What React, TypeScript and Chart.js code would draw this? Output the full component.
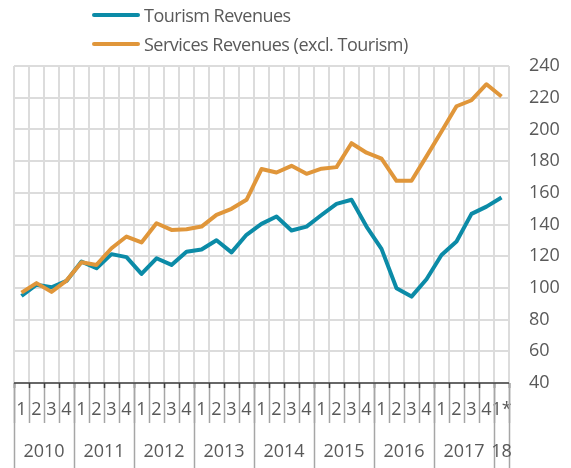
import React, { useEffect, useRef } from 'react';
import { Chart, registerables } from 'chart.js';

Chart.register(...registerables);

const quarterLabels = [
  '1', '2', '3', '4', '1', '2', '3', '4', '1', '2', '3', '4', '1', '2', '3', '4',
  '1', '2', '3', '4', '1', '2', '3', '4', '1', '2', '3', '4', '1', '2', '3', '4', '1*',
];
const yearLabels = ['2010', '2011', '2012', '2013', '2014', '2015', '2016', '2017', '18'];
const yearSpans = [4, 4, 4, 4, 4, 4, 4, 4, 1];

const tourismRevenues = [
  94.9, 102, 100.4, 104.4, 116.6, 112.4, 121.3, 119.4, 108.8, 118.7, 114.5, 122.8,
  124.2, 130.1, 122.4, 133.5, 140.4, 145, 136.2, 138.7, 146, 153, 155.6, 138.7,
  124.6, 99.8, 94.5, 105.5, 120.8, 129.3, 146.7, 151.3, 157,
];
const servicesRevenues = [
  97, 103, 97.5, 104.6, 116.2, 114.5, 125, 132.4, 128.7, 140.8, 136.6, 137,
  138.7, 146.1, 149.9, 155.6, 175, 172.8, 177, 172, 175.2, 176.2, 191.3, 185.3,
  181.5, 167.6, 167.6, 183, 198.7, 214.6, 218.4, 228.5, 220.8,
];

const Y_MIN = 40;
const Y_MAX = 240;
const Y_STEP = 20;

const TEAL = '#0b8ba7';
const ORANGE = '#e0963a';
const TEXT = '#595959';
const FONT = "'Open Sans', sans-serif";

const seriesNames = ['Tourism Revenues', 'Services Revenues (excl. Tourism)'];

const axisDecor = {
  id: 'axisDecor',
  afterDraw(chart: any) {
    const { ctx, chartArea } = chart;
    const x = chart.scales.x;
    const bottom = chartArea.bottom;
    const n = quarterLabels.length;
    ctx.save();
    for (let i = 0; i <= n; i++) {
      const px = Math.round(x.getPixelForValue(i - 0.5)) + 0.5;
      ctx.strokeStyle = '#a6a6a6';
      ctx.lineWidth = 1.5;
      ctx.beginPath();
      ctx.moveTo(px, bottom);
      ctx.lineTo(px, bottom + 40);
      ctx.stroke();
      ctx.strokeStyle = '#404040';
      ctx.beginPath();
      ctx.moveTo(px, bottom);
      ctx.lineTo(px, bottom + 5);
      ctx.stroke();
    }
    let start = 0;
    ctx.font = `18px ${FONT}`;
    ctx.fillStyle = TEXT;
    ctx.textAlign = 'center';
    ctx.textBaseline = 'middle';
    const bounds = [0];
    yearSpans.forEach((s) => { start += s; bounds.push(start); });
    bounds.forEach((b) => {
      const px = Math.round(x.getPixelForValue(b - 0.5)) + 0.5;
      ctx.strokeStyle = '#a6a6a6';
      ctx.lineWidth = 1.5;
      ctx.beginPath();
      ctx.moveTo(px, bottom);
      ctx.lineTo(px, chart.height);
      ctx.stroke();
    });
    yearLabels.forEach((lab, k) => {
      const a = bounds[k];
      const c = x.getPixelForValue(a + (yearSpans[k] - 1) / 2);
      ctx.fillText(lab, c, bottom + 69);
    });
    ctx.strokeStyle = '#404040';
    ctx.lineWidth = 1.5;
    ctx.beginPath();
    ctx.moveTo(chartArea.left, bottom);
    ctx.lineTo(chartArea.right, bottom);
    ctx.stroke();
    ctx.restore();
  },
};

export default function App() {
  const ref = useRef<HTMLCanvasElement | null>(null);

  useEffect(() => {
    document.body.style.margin = '0';
    if (!ref.current) return;
    const chart = new Chart(ref.current, {
      type: 'line',
      data: {
        labels: quarterLabels,
        datasets: [
          {
            label: seriesNames[1],
            data: servicesRevenues,
            borderColor: ORANGE,
            backgroundColor: ORANGE,
            borderWidth: 4,
            pointRadius: 0,
            tension: 0,
            borderJoinStyle: 'round',
          },
          {
            label: seriesNames[0],
            data: tourismRevenues,
            borderColor: TEAL,
            backgroundColor: TEAL,
            borderWidth: 4,
            pointRadius: 0,
            tension: 0,
            borderJoinStyle: 'round',
          },
        ],
      },
      options: {
        animation: false,
        responsive: false,
        layout: { padding: { top: 66, left: 14, right: 0, bottom: 0 } },
        plugins: { legend: { display: false }, tooltip: { enabled: false } },
        scales: {
          x: {
            type: 'category',
            offset: true,
            grid: { display: true, offset: true, color: '#dcdcdc', lineWidth: 2, drawTicks: false },
            border: { display: false },
            ticks: {
              autoSkip: false,
              maxRotation: 0,
              minRotation: 0,
              padding: 16,
              color: TEXT,
              font: { family: FONT, size: 18 },
            },
            afterFit: (scale: any) => { scale.height = 85; },
          },
          y: {
            position: 'right',
            min: Y_MIN,
            max: Y_MAX,
            grid: { color: '#dcdcdc', lineWidth: 2, drawTicks: false },
            border: { display: false },
            ticks: {
              stepSize: Y_STEP,
              padding: 20,
              color: TEXT,
              font: { family: FONT, size: 18 },
            },
            afterFit: (scale: any) => { scale.width = 62; },
          },
        },
      },
      plugins: [axisDecor],
    });
    return () => chart.destroy();
  }, []);

  const legendItems = [
    { name: seriesNames[0], color: TEAL },
    { name: seriesNames[1], color: ORANGE },
  ];

  return (
    <div style={{ position: 'relative', width: 571, height: 468 }}>
      <canvas ref={ref} width={571} height={468} style={{ display: 'block', width: 571, height: 468 }} />
      <div style={{ position: 'absolute', left: 92, top: 0 }}>
        {legendItems.map((it) => (
          <div key={it.name} style={{ display: 'flex', alignItems: 'center', height: 29 }}>
            <div style={{ width: 48, height: 4, borderRadius: 2, background: it.color, marginRight: 4 }} />
            <span style={{ fontFamily: FONT, fontSize: 18, color: TEXT, lineHeight: 1, whiteSpace: 'nowrap', letterSpacing: '-0.5px' }}>{it.name}</span>
          </div>
        ))}
      </div>
    </div>
  );
}
